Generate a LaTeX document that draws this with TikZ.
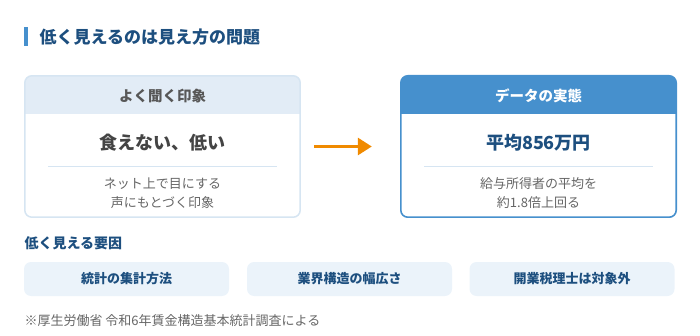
\documentclass[tikz,border=0pt]{standalone}
\usepackage{fontspec}
\setmainfont{Noto Sans CJK JP}
\usepackage{tikz}
\usetikzlibrary{arrows.meta, positioning}
\definecolor{navy}{HTML}{1D4F7F}
\definecolor{midblue}{HTML}{4690CD}
\definecolor{headbg}{HTML}{E2ECF6}
\definecolor{paleline}{HTML}{D6E5F2}
\definecolor{factorbg}{HTML}{EBF3FA}
\definecolor{darkgray}{HTML}{444444}
\definecolor{subgray}{HTML}{666666}
\definecolor{flowor}{HTML}{F08A00}
\tikzset{
  card/.style={minimum width=275pt, minimum height=141pt, inner sep=0pt},
  headtext/.style={font=\bfseries\fontsize{14.5}{17}\selectfont},
  maintext/.style={font=\bfseries\fontsize{18}{21}\selectfont},
  subtext/.style={font=\fontsize{13}{19}\selectfont, text=subgray, align=center},
  sepline/.style={draw=paleline, line width=0.8pt},
  factorbox/.style={fill=factorbg, rounded corners=7pt, minimum width=205pt, minimum height=34pt,
    font=\bfseries\fontsize{13}{15}\selectfont, text=navy},
  flow/.style={draw=flowor, line width=3pt, -{Triangle[length=14pt, width=17pt]}}
}

\begin{document}
\begin{tikzpicture}[x=1pt, y=-1pt]
	\useasboundingbox (0,0) rectangle (700,336);
	\fill[midblue] (24,27) rectangle (27.5,46);
	\node[anchor=west, text=navy, font=\bfseries\fontsize{17}{20}\selectfont] (title) at (36,37) {低く見えるのは見え方の問題};

	\node[card, fill=white] (imp) at (162.5,146.5) {};
	\begin{scope}
		\clip[rounded corners=7pt] (imp.north west) rectangle (imp.south east);
		\fill[headbg] (imp.north west) rectangle (300,114);
	\end{scope}
	\draw[paleline, line width=1.5pt, rounded corners=7pt] (imp.north west) rectangle (imp.south east);
	\node[headtext, text=subgray!85!black] (imphead) at (162.5,96) {よく聞く印象};
	\node[maintext, text=darkgray] (impmain) at (162.5,143) {食えない、低い};
	\draw[sepline] (48,166) -- (277,166);
	\node[subtext] (impsub) at (162.5,193.5) {ネット上で目にする\\声にもとづく印象};

	\node[card, fill=white] (real) at (538.5,146.5) {};
	\begin{scope}
		\clip[rounded corners=7pt] (real.north west) rectangle (real.south east);
		\fill[midblue] (real.north west) rectangle (676,114);
	\end{scope}
	\draw[midblue, line width=1.6pt, rounded corners=7pt] (real.north west) rectangle (real.south east);
	\node[headtext, text=white] (realhead) at (538.5,96) {データの実態};
	\node[maintext, text=navy] (realmain) at (538.5,143) {平均856万円};
	\draw[sepline] (424,166) -- (653,166);
	\node[subtext] (realsub) at (538.5,193.5) {給与所得者の平均を\\約1.8倍上回る};

	\draw[flow, shorten <=14pt, shorten >=29pt] (imp) -- (real);

	\node[anchor=west, text=navy, font=\bfseries\fontsize{14}{16}\selectfont] (factors) at (21,243) {低く見える要因};
	\node[factorbox] (fone) at (126.5,279) {統計の集計方法};
	\node[factorbox] (ftwo) at (349.5,279) {業界構造の幅広さ};
	\node[factorbox] (fthree) at (572,279) {開業税理士は対象外};

	\node[anchor=west, text=subgray, font=\fontsize{13}{15}\selectfont] (note) at (21,321) {※厚生労働省 令和6年賃金構造基本統計調査による};
\end{tikzpicture}
\end{document}
